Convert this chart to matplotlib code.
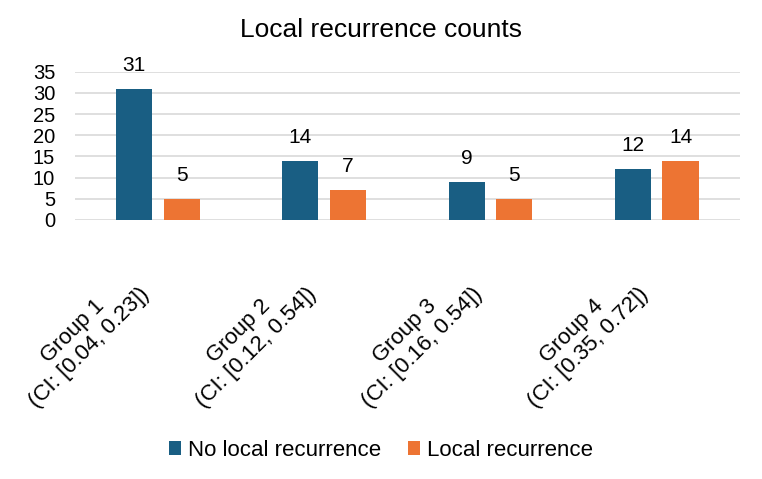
import numpy as np
import matplotlib.pyplot as plt
from matplotlib.transforms import ScaledTranslation

groups = ["Group 1\n(CI: [0.04, 0.23])", "Group 2\n(CI: [0.12, 0.54])",
          "Group 3\n(CI: [0.16, 0.54])", "Group 4\n(CI: [0.35, 0.72])"]
no_recurrence = [31, 14, 9, 12]
recurrence = [5, 7, 5, 14]

blue = "#195E83"
orange = "#ED7433"

plt.rcParams['font.family'] = ['Liberation Sans', 'DejaVu Sans']

fig = plt.figure(figsize=(7.62, 4.79), dpi=100)
ax = fig.add_axes([0.098, 0.541, 0.873, 0.309])

x = np.arange(len(groups))
w = 0.217
off = 0.143
b1 = ax.bar(x - off, no_recurrence, w, color=blue, label="No local recurrence")
b2 = ax.bar(x + off, recurrence, w, color=orange, label="Local recurrence")
for bars in (b1, b2):
    ax.bar_label(bars, padding=10, fontsize=15)

ax.set_ylim(0, 35)
ax.set_yticks(range(0, 36, 5))
ax.set_xlim(-0.5, 3.5)
ax.yaxis.grid(True, color="#D9D9D9", linewidth=1.2)
ax.set_axisbelow(True)
for s in ax.spines.values():
    s.set_visible(False)
ax.tick_params(axis="y", length=0, labelsize=14.5, pad=14)
ax.set_xticks(x)
ax.set_xticklabels([])
ax.tick_params(axis="x", length=0)

# rotated category labels, hanging below the axis
shift = ScaledTranslation(-0.2, -0.63, fig.dpi_scale_trans)
for xi, lab in zip(x, groups):
    ax.text(xi, 0, lab, transform=ax.get_xaxis_transform() + shift,
            rotation=45, ha="right", va="center", rotation_mode="anchor",
            multialignment="center", fontsize=16)

fig.text(0.5, 0.937, "Local recurrence counts", ha="center", va="center", fontsize=19)
fig.legend(loc="center", bbox_to_anchor=(0.5, 0.06), ncol=2, frameon=False,
           fontsize=16, handlelength=0.55, handleheight=0.55, columnspacing=1.2,
           handletextpad=0.3)

fig.savefig("out.png", dpi=100)
